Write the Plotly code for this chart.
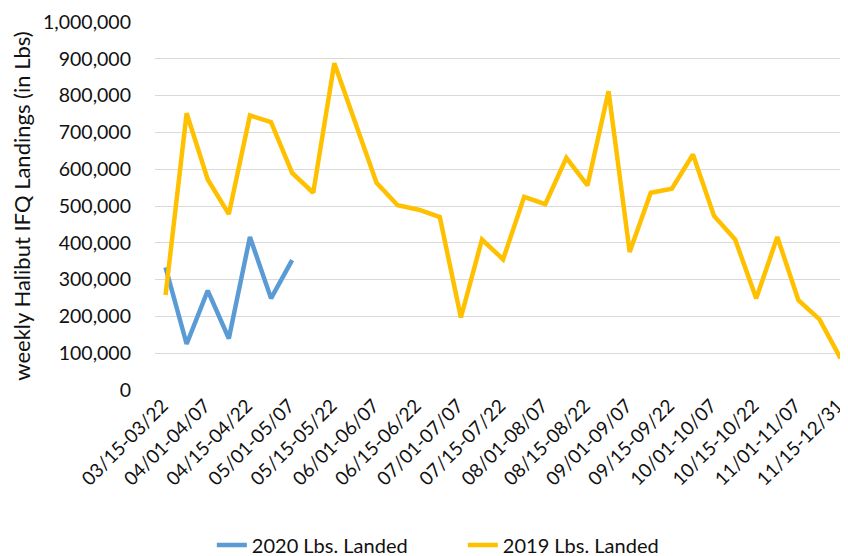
import plotly.graph_objects as go

weeks = [
    "03/15-03/22", "03/23-03/31", "04/01-04/07", "04/08-04/14", "04/15-04/22",
    "04/23-04/30", "05/01-05/07", "05/08-05/14", "05/15-05/22", "05/23-05/31",
    "06/01-06/07", "06/08-06/14", "06/15-06/22", "06/23-06/30", "07/01-07/07",
    "07/08-07/14", "07/15-07/22", "07/23-07/31", "08/01-08/07", "08/08-08/14",
    "08/15-08/22", "08/23-08/31", "09/01-09/07", "09/08-09/14", "09/15-09/22",
    "09/23-09/30", "10/01-10/07", "10/08-10/14", "10/15-10/22", "10/23-10/31",
    "11/01-11/07", "11/08-11/14", "11/15-12/31",
]

lbs_2019 = [
    258000, 752000, 572000, 478000, 746000, 728000, 590000, 536000, 888000,
    725000, 563000, 502000, 490000, 470000, 197000, 409000, 355000, 525000,
    505000, 631000, 556000, 812000, 375000, 536000, 547000, 640000, 473000,
    409000, 249000, 416000, 244000, 192000, 86000,
]

lbs_2020 = [333000, 125000, 270000, 140000, 416000, 249000, 353000]

tick_weeks = weeks[::2]
y_ticks = list(range(0, 1000001, 100000))

FONT = "Lato"
TXT = "#111111"

fig = go.Figure()
fig.add_trace(go.Scatter(
    x=weeks[:len(lbs_2020)], y=lbs_2020, mode="lines", name="2020 Lbs. Landed",
    line=dict(color="#5B9BD5", width=4.5),
))
fig.add_trace(go.Scatter(
    x=weeks, y=lbs_2019, mode="lines", name="2019 Lbs. Landed",
    line=dict(color="#FFC000", width=4.5),
))

# the page adds an 8px body margin, so the figure is sized to fill the rest of the window
fig.update_layout(
    width=840, height=548,
    margin=dict(l=147, r=0, t=13.5, b=166),
    paper_bgcolor="white", plot_bgcolor="white",
    font=dict(family=FONT, size=20, color=TXT),
    showlegend=True,
    legend=dict(orientation="h", x=0.082, xanchor="left",
                yref="container", y=0.02, yanchor="middle",
                font=dict(family=FONT, size=20, color=TXT),
                entrywidth=206, entrywidthmode="pixels"),
    xaxis=dict(
        type="category", categoryorder="array", categoryarray=weeks,
        range=[-0.5, 32.35], tickmode="array", tickvals=tick_weeks, ticktext=tick_weeks,
        tickangle=-45, showgrid=False, zeroline=False, showline=False,
        automargin=False, ticklabelshift=-3,
        tickfont=dict(family=FONT, size=19, color=TXT),
    ),
    yaxis=dict(
        range=[0, 1000000], tickmode="array", tickvals=y_ticks,
        tickformat=",d", showgrid=True, gridcolor="#d9d9d9", gridwidth=1.3,
        zeroline=False, showline=False, ticklabelstandoff=23, automargin=False,
        tickfont=dict(family=FONT, size=19.5, color=TXT),
        title=dict(text="weekly Halibut IFQ Landings (in Lbs)", standoff=8,
                   font=dict(family=FONT, size=22, color=TXT)),
    ),
)

fig.write_html("out.html")
